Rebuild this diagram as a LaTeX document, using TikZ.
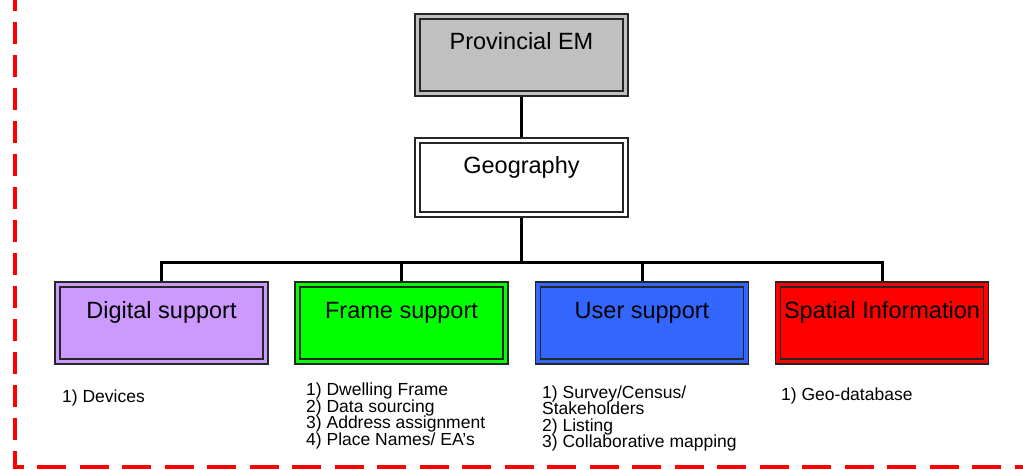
\documentclass[tikz,border=0pt]{standalone}
\usepackage{fontspec}
\setmainfont{Liberation Sans}
\usepackage{tikz}
\usetikzlibrary{backgrounds}
\usepackage{xcolor}

\definecolor{emgray}{HTML}{C0C0C0}
\definecolor{digitalpurple}{HTML}{CC99FF}
\definecolor{framegreen}{HTML}{00FF00}
\definecolor{userblue}{HTML}{3366FF}
\definecolor{spatialred}{HTML}{FF0000}

\begin{document}
\begin{tikzpicture}[x=1pt,y=-1pt,
    box/.style={draw=black!85, line width=1.5pt, double=#1, double distance=3.5pt, fill=#1,
        minimum width=208pt, minimum height=77pt, inner sep=0pt,
        text height=17pt, text depth=27pt, font=\fontsize{23.5}{28}\selectfont},
    link/.style={line width=3pt},
    items/.style={anchor=base west, align=left, inner sep=0pt, font=\fontsize{17.5}{16.4}\selectfont}]
    \useasboundingbox (0,0) rectangle (1023,469);

    % Red dashed frame (left and bottom)
    \draw[spatialred, line width=4pt, dash pattern=on 22pt off 11pt] (15,-11) -- (15,469);
    \draw[spatialred, line width=4pt, dash pattern=on 29pt off 13.5pt, dash phase=20.5pt] (15,467) -- (1030,467);

    % Top of the chart
    \node[box=emgray, text depth=29pt] (prov) at (521.5,55) {Provincial EM};
    \node[box=white, minimum height=74pt, text depth=26pt] (geo) at (521.5,177.5) {Geography};

    % Support units
    \node[box=digitalpurple] (digital) at (161.5,323) {Digital support};
    \node[box=framegreen] (frame) at (401.5,323) {Frame support};
    \node[box=userblue] (user) at (642,323) {User support};
    \node[box=spatialred] (spatial) at (882,323) {Spatial Information};

    % Connectors
    \coordinate (hub) at (521.5,262);
    \begin{scope}[on background layer]
        \draw[link] (prov) -- (geo);
        \draw[link] (geo) -- (hub);
        \draw[link] (digital.north) |- (hub) -| (spatial.north);
        \draw[link] (frame.north) -- (frame.north |- hub);
        \draw[link] (user.north) -- (user.north |- hub);
    \end{scope}

    % Task lists (base = last line)
    \node[items] (devices) at (62,402) {1) Devices};
    \node[items] (framelist) at (306,445) {1) Dwelling Frame\\2) Data sourcing\\3) Address assignment\\4) Place Names/ EA’s};
    \node[items] (userlist) at (542,447.5) {1) Survey/Census/\\Stakeholders\\2) Listing\\3) Collaborative mapping};
    \node[items] (geolist) at (781,400) {1) Geo-database};
\end{tikzpicture}
\end{document}
